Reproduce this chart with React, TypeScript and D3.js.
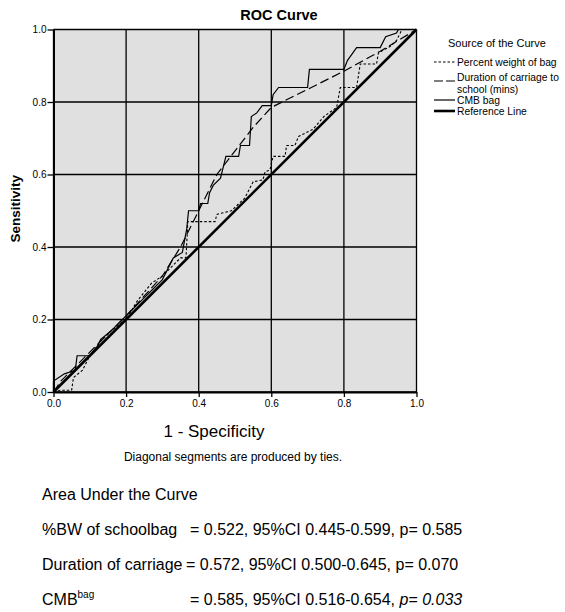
import {useEffect, useRef} from "react";
import * as d3 from "d3";

// ROC points: [1 - specificity, sensitivity]
const percentWeight: [number, number][] = [
    [0, 0], [0.02, 0.005], [0.05, 0.005], [0.055, 0.04], [0.08, 0.06], [0.1, 0.1], [0.13, 0.14],
    [0.16, 0.17], [0.2, 0.2], [0.23, 0.25], [0.27, 0.3], [0.3, 0.32], [0.35, 0.37], [0.365, 0.37],
    [0.37, 0.47], [0.445, 0.47], [0.45, 0.49], [0.49, 0.5], [0.527, 0.535], [0.55, 0.58],
    [0.577, 0.585], [0.583, 0.608], [0.596, 0.612], [0.605, 0.65], [0.638, 0.65], [0.642, 0.68],
    [0.665, 0.68], [0.675, 0.705], [0.715, 0.725], [0.745, 0.76], [0.78, 0.785], [0.79, 0.84],
    [0.835, 0.84], [0.845, 0.905], [0.89, 0.905], [0.895, 0.935], [0.93, 0.955], [0.945, 0.97],
    [0.955, 0.99], [0.96, 1], [1, 1]
];
const duration: [number, number][] = [
    [0, 0], [0.02, 0.03], [0.1, 0.11], [0.2, 0.21], [0.3, 0.32], [0.35, 0.4], [0.4, 0.5],
    [0.45, 0.6], [0.55, 0.73], [0.6, 0.785], [0.8, 0.885], [0.9, 0.94], [1, 1]
];
const cmbBag: [number, number][] = [
    [0, 0], [0, 0.03], [0.03, 0.05], [0.06, 0.06], [0.065, 0.1], [0.1, 0.1], [0.12, 0.125],
    [0.13, 0.145], [0.16, 0.17], [0.19, 0.2], [0.21, 0.22], [0.24, 0.25], [0.27, 0.28], [0.3, 0.31],
    [0.33, 0.37], [0.355, 0.385], [0.367, 0.45], [0.372, 0.5], [0.4, 0.5], [0.405, 0.52],
    [0.425, 0.52], [0.43, 0.55], [0.44, 0.57], [0.46, 0.59], [0.475, 0.65], [0.51, 0.65],
    [0.515, 0.68], [0.54, 0.68], [0.545, 0.76], [0.56, 0.77], [0.575, 0.79], [0.6, 0.79],
    [0.605, 0.82], [0.62, 0.84], [0.7, 0.84], [0.705, 0.89], [0.8, 0.89], [0.81, 0.915],
    [0.835, 0.95], [0.9, 0.95], [0.915, 0.98], [0.945, 0.99], [0.95, 1], [1, 1]
];
const referenceLine: [number, number][] = [[0, 0], [1, 1]];

const ticks = [0, 0.2, 0.4, 0.6, 0.8, 1.0];
const legendNames = ["Percent weight of bag", "Duration of carriage to|school (mins)", "CMB bag", "Reference Line"];

const aucNames = ["%BW of schoolbag", "Duration of carriage", "CMB"];
const aucValues = ["0.522", "0.572", "0.585"];
const aucCI = ["0.445-0.599", "0.500-0.645", "0.516-0.654"];
const aucP = ["0.585", "0.070", "0.033"];

const FONT = "'Liberation Sans', Arial, sans-serif";

export default function App() {
    const svgRef = useRef<SVGSVGElement>(null);

    useEffect(() => {
        if (!svgRef.current) return;
        const svg = d3.select(svgRef.current);
        svg.selectAll("*").remove();

        const x = d3.scaleLinear().domain([0, 1]).range([53.5, 416.5]);
        const y = d3.scaleLinear().domain([0, 1]).range([392, 29.5]);

        // plot background
        svg.append("rect")
            .attr("x", x(0)).attr("y", y(1))
            .attr("width", x(1) - x(0)).attr("height", y(0) - y(1))
            .attr("fill", "#e0e0e0");

        // grid
        const grid = svg.append("g").attr("stroke", "#000").attr("stroke-width", 1.3);
        ticks.forEach(t => {
            grid.append("line").attr("x1", x(t)).attr("x2", x(t)).attr("y1", y(0)).attr("y2", y(1));
            grid.append("line").attr("x1", x(0)).attr("x2", x(1)).attr("y1", y(t)).attr("y2", y(t));
        });

        // axes
        svg.append("g")
            .attr("transform", `translate(0,${y(0)})`)
            .call(d3.axisBottom(x).tickValues(ticks).tickFormat(d3.format(".1f")).tickSizeInner(5).tickSizeOuter(0).tickPadding(3))
            .call(g => g.select(".domain").attr("stroke-width", 2))
            .call(g => g.selectAll("line").attr("stroke-width", 1.3))
            .call(g => g.selectAll("text").attr("font-family", FONT).attr("font-size", 10).attr("fill", "#000"));
        svg.append("g")
            .attr("transform", `translate(${x(0)},0)`)
            .call(d3.axisLeft(y).tickValues(ticks).tickFormat(d3.format(".1f")).tickSizeInner(6).tickSizeOuter(0).tickPadding(1))
            .call(g => g.select(".domain").attr("stroke-width", 2))
            .call(g => g.selectAll("line").attr("stroke-width", 1.3))
            .call(g => g.selectAll("text").attr("font-family", FONT).attr("font-size", 10).attr("fill", "#000"));

        const line = d3.line<[number, number]>().x(d => x(d[0])).y(d => y(d[1]));

        const series = [
            {data: referenceLine, width: 2.6, dash: null},
            {data: percentWeight, width: 1.1, dash: "2.5,2"},
            {data: duration, width: 1.2, dash: "9,4"},
            {data: cmbBag, width: 1.2, dash: null},
        ];
        series.forEach(s => {
            svg.append("path")
                .datum(s.data)
                .attr("fill", "none")
                .attr("stroke", "#000")
                .attr("stroke-width", s.width)
                .attr("stroke-dasharray", s.dash)
                .attr("d", line);
        });

        // titles
        svg.append("text").text("ROC Curve")
            .attr("x", 279).attr("y", 20).attr("text-anchor", "middle")
            .attr("font-family", FONT).attr("font-weight", "bold").attr("font-size", 14.5);
        svg.append("text").text("Sensitivity")
            .attr("transform", `translate(20,${(y(0) + y(1)) / 2 - 2}) rotate(-90)`)
            .attr("text-anchor", "middle")
            .attr("font-family", FONT).attr("font-weight", "bold").attr("font-size", 13.5);
        svg.append("text").text("1 - Specificity")
            .attr("x", 214).attr("y", 437).attr("text-anchor", "middle")
            .attr("font-family", FONT).attr("font-size", 17);
        svg.append("text").text("Diagonal segments are produced by ties.")
            .attr("x", 233).attr("y", 461).attr("text-anchor", "middle")
            .attr("font-family", FONT).attr("font-size", 12);

        // legend
        const legend = svg.append("g").attr("font-family", FONT);
        legend.append("text").text("Source of the Curve")
            .attr("x", 448).attr("y", 47).attr("font-size", 11);
        const legendY = [62, 77, 100, 111];
        const sampleY = [62, 81, 100, 111];
        const legendSeries = [series[1], series[2], series[3], series[0]];
        legendNames.forEach((name, i) => {
            const s = legendSeries[i];
            legend.append("line")
                .attr("x1", 434).attr("x2", 455).attr("y1", sampleY[i]).attr("y2", sampleY[i])
                .attr("stroke", "#000").attr("stroke-width", s.width)
                .attr("stroke-dasharray", i === 1 ? "9,3" : s.dash);
            name.split("|").forEach((part, j) => {
                legend.append("text").text(part)
                    .attr("x", 457).attr("y", legendY[i] + j * 12)
                    .attr("dy", "0.35em")
                    .attr("font-size", 10.3);
            });
        });

        // area under the curve
        const auc = svg.append("g").attr("font-family", FONT).attr("font-size", 16).attr("fill", "#000");
        auc.append("text").text("Area Under the Curve").attr("x", 42).attr("y", 500);
        aucNames.forEach((name, i) => {
            const yy = 535 + i * 35;
            const label = auc.append("text").attr("x", 42).attr("y", yy).text(name);
            if (name === "CMB") {
                label.append("tspan").text("bag").attr("font-size", 10).attr("dy", -7);
            }
            const val = auc.append("text").attr("x", i === 1 ? 186 : 190).attr("y", yy);
            val.append("tspan").text(`= ${aucValues[i]}, 95%CI ${aucCI[i]}, `);
            if (i === 2) {
                val.append("tspan").text("p").attr("font-style", "italic");
                val.append("tspan").text("= ");
                val.append("tspan").text(aucP[i]).attr("font-style", "italic");
            } else {
                val.append("tspan").text(`p= ${aucP[i]}`);
            }
        });
    }, []);

    return (
        <svg ref={svgRef} width={565} height={612}
             style={{position: "absolute", left: 0, top: 0, background: "#fff"}}></svg>
    );
}
